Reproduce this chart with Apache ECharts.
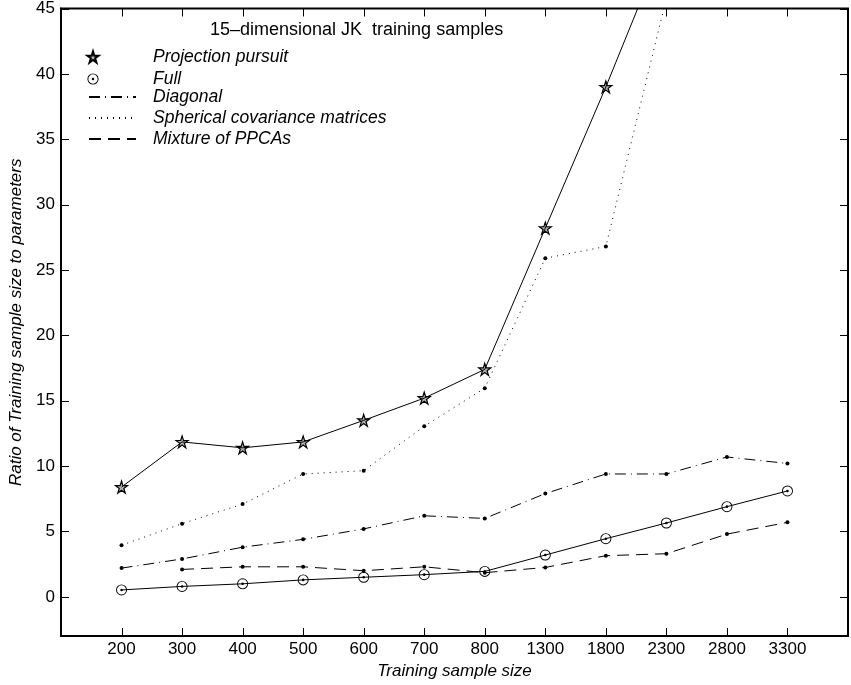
<!DOCTYPE html>
<html>
<head>
<meta charset="utf-8">
<script src="https://cdn.jsdelivr.net/npm/echarts@6/dist/echarts.min.js"></script>
<style>
  html, body { margin: 0; padding: 0; background: #fff; }
  #main { width: 851px; height: 685px; }
</style>
</head>
<body>
<div id="main"></div>
<script>
var sizes = ['200', '300', '400', '500', '600', '700', '800', '1300', '1800', '2300', '2800', '3300'];
var yTicks = [0, 5, 10, 15, 20, 25, 30, 35, 40, 45];

// values (last points run off the top of the plot)
var projection = [8.4, 11.85, 11.4, 11.85, 13.5, 15.2, 17.4, 28.2, 39.0, 50.4];
var full = [0.53, 0.8, 1.0, 1.3, 1.5, 1.7, 1.95, 3.2, 4.45, 5.65, 6.9, 8.1];
var diagonal = [2.2, 2.9, 3.8, 4.4, 5.2, 6.2, 6.0, 7.9, 9.4, 9.4, 10.7, 10.2];
var spherical = [3.95, 5.6, 7.1, 9.4, 9.65, 13.05, 15.96, 25.9, 26.8, 45.8];
var ppca = [null, 2.1, 2.3, 2.3, 2.0, 2.3, 1.85, 2.25, 3.15, 3.3, 4.8, 5.7];

var xMin = 0, xMax = 13, yMin = -3, yMax = 45;
var tickLen = 8;

var font = 'Liberation Sans, Arial, Helvetica, sans-serif';
var starPath = 'path://M10,0 L12.245,6.910 L19.511,6.910 L13.633,11.180 L15.878,18.090 L10,13.82 L4.122,18.090 L6.367,11.180 L0.489,6.910 L7.755,6.910 Z';
var ringDotPath = 'path://M12,0 A12,12 0 1 1 12,24 A12,12 0 1 1 12,0 Z ' +
    'M12,2 A10,10 0 1 0 12,22 A10,10 0 1 0 12,2 Z ' +
    'M12,9.2 A2.8,2.8 0 1 1 12,14.8 A2.8,2.8 0 1 1 12,9.2 Z';

// x position of each sample size is its index (1..12)
function pairs(arr) {
    var out = [];
    arr.forEach(function (v, i) {
        if (v !== null) out.push([i + 1, v]);
    });
    return out;
}
var xTickData = sizes.map(function (s, i) { return [i + 1, yMin]; });
var yTickData = yTicks.map(function (v) { return [xMin, v]; });

// matlab style inward ticks on all four sides of the box
function tickLine(x1, y1, x2, y2) {
    return { type: 'line', shape: { x1: x1, y1: y1, x2: x2, y2: y2 }, style: { stroke: '#000', lineWidth: 1 } };
}
function renderXTick(params, api) {
    var x = api.value(0);
    var b = api.coord([x, yMin]);
    var t = api.coord([x, yMax]);
    var px = Math.round(b[0]) + 0.5;
    return { type: 'group', children: [
        tickLine(px, b[1], px, b[1] - tickLen),
        tickLine(px, t[1], px, t[1] + tickLen)
    ] };
}
function renderYTick(params, api) {
    var y = api.value(1);
    var l = api.coord([xMin, y]);
    var r = api.coord([xMax, y]);
    var py = Math.round(l[1]) + 0.5;
    return { type: 'group', children: [
        tickLine(l[0], py, l[0] + tickLen, py),
        tickLine(r[0], py, r[0] - tickLen, py)
    ] };
}

var myChart = echarts.init(document.getElementById('main'));

var option = {
    animation: false,
    title: {
        text: '15\u2013dimensional JK  training samples',
        left: 210,
        top: 21,
        padding: 0,
        textStyle: { fontFamily: font, fontSize: 18, fontWeight: 'normal', color: '#000' }
    },
    legend: [
        {
            data: ['Projection pursuit', 'Full'],
            orient: 'vertical',
            left: 85,
            top: 48,
            padding: 0,
            itemWidth: 14,
            itemHeight: 14,
            itemGap: 4,
            selectedMode: false,
            lineStyle: { opacity: 0 },
            textStyle: { fontFamily: font, fontSize: 17.5, fontStyle: 'italic', color: '#000', padding: [0, 0, 0, 48] }
        },
        {
            data: ['Diagonal', 'Spherical covariance matrices', 'Mixture of PPCAs'],
            orient: 'vertical',
            left: 88,
            top: 88,
            padding: 0,
            itemWidth: 47,
            itemHeight: 14,
            itemGap: 3,
            selectedMode: false,
            itemStyle: { opacity: 0 },
            textStyle: { fontFamily: font, fontSize: 17.5, fontStyle: 'italic', color: '#000', padding: [0, 0, 0, 12] }
        }
    ],
    grid: {
        left: 61, top: 7, width: 794, height: 633,
        show: true, borderColor: '#000', borderWidth: 2, backgroundColor: '#fff'
    },
    xAxis: {
        type: 'value', min: xMin, max: xMax, interval: 1, position: 'bottom',
        axisLine: { show: true, onZero: false, lineStyle: { color: '#000', width: 2 } },
        axisTick: { show: false },
        axisLabel: {
            margin: 5, fontFamily: font, fontSize: 17, color: '#000',
            formatter: function (v) { return sizes[Math.round(v) - 1] || ''; }
        },
        splitLine: { show: false },
        name: 'Training sample size',
        nameLocation: 'middle',
        nameGap: 26,
        nameTextStyle: { fontFamily: font, fontSize: 17, fontStyle: 'italic', color: '#000' }
    },
    yAxis: {
        type: 'value', min: yMin, max: yMax, splitNumber: 10, position: 'left',
        axisLine: { show: true, onZero: false, lineStyle: { color: '#000', width: 2 } },
        axisTick: { show: false },
        axisLabel: {
            margin: 6, fontFamily: font, fontSize: 17, color: '#000',
            formatter: function (v) { return yTicks.indexOf(v) >= 0 ? String(v) : ''; }
        },
        splitLine: { show: false },
        name: 'Ratio of Training sample size to parameters',
        nameLocation: 'middle',
        nameGap: 26,
        nameTextStyle: { fontFamily: font, fontSize: 17, fontStyle: 'italic', color: '#000' }
    },
    series: [
        {
            type: 'custom',
            silent: true,
            clip: false,
            renderItem: renderXTick,
            data: xTickData,
            z: 5
        },
        {
            type: 'custom',
            silent: true,
            clip: false,
            renderItem: renderYTick,
            data: yTickData,
            z: 5
        },
        {
            name: 'Spherical covariance matrices',
            type: 'line',
            data: pairs(spherical),
            symbol: 'circle', symbolSize: 4,
            itemStyle: { color: '#000' },
            lineStyle: { color: '#000', width: 1, type: [1, 5] }
        },
        {
            name: 'Diagonal',
            type: 'line',
            data: pairs(diagonal),
            symbol: 'circle', symbolSize: 4,
            itemStyle: { color: '#000' },
            lineStyle: { color: '#000', width: 1, type: [11, 5, 1, 5] }
        },
        {
            name: 'Mixture of PPCAs',
            type: 'line',
            data: pairs(ppca),
            symbol: 'circle', symbolSize: 4,
            itemStyle: { color: '#000' },
            lineStyle: { color: '#000', width: 1, type: [12, 7] }
        },
        {
            name: 'Full',
            type: 'line',
            data: pairs(full),
            symbol: ringDotPath, symbolSize: 11,
            itemStyle: { color: '#000' },
            lineStyle: { color: '#000', width: 1 }
        },
        {
            name: 'Projection pursuit',
            type: 'line',
            data: pairs(projection),
            symbol: starPath, symbolSize: 12,
            itemStyle: { color: 'rgba(0,0,0,0.3)', borderColor: '#000', borderWidth: 1.2 },
            lineStyle: { color: '#000', width: 1 }
        }
    ]
};
myChart.setOption(option);
</script>
</body>
</html>
